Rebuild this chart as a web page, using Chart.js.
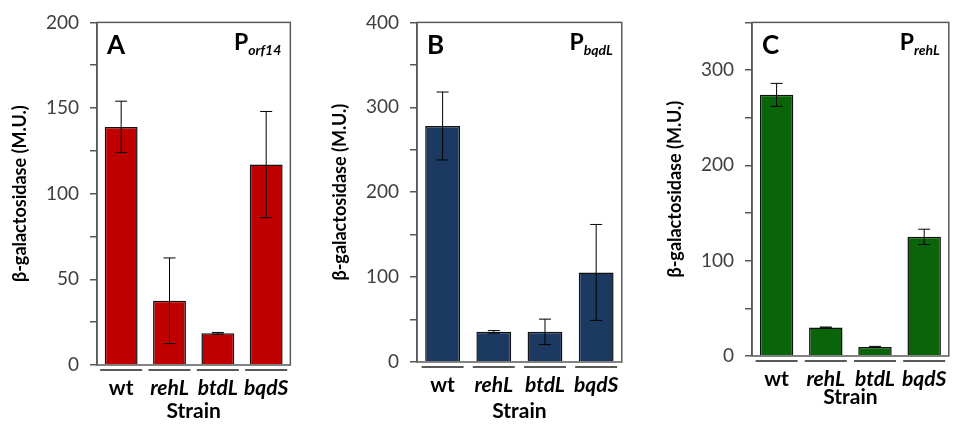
<!DOCTYPE html>
<html>
<head>
<meta charset="utf-8">
<script src="https://cdn.jsdelivr.net/npm/chart.js@4"></script>
<style>
  body { margin: 0; background: #fff; }
  #wrap { position: relative; width: 963px; height: 424px; overflow: hidden; }
  canvas { position: absolute; top: 0; }
</style>
</head>
<body>
<div id="wrap">
  <canvas id="panelA" width="300" height="424" style="left:0px"></canvas>
  <canvas id="panelB" width="310" height="424" style="left:320px"></canvas>
  <canvas id="panelC" width="303" height="410" style="left:655px"></canvas>
</div>
<script>
const strains = ['wt', 'rehL', 'btdL', 'bqdS'];

const orf14Mean = [139, 37.5, 18.5, 117];
const orf14Err = [15, 25, 0.5, 31];

const bqdLMean = [278, 35.5, 35.5, 105.5];
const bqdLErr = [40, 1.5, 15, 56.5];

const rehLMean = [274, 30, 9.5, 125];
const rehLErr = [12, 0.4, 0.6, 8];

const yMaxA = 200, yStepA = 25, yLabelStepA = 50;
const yMaxB = 400, yStepB = 50, yLabelStepB = 100;
const yMaxC = 350, yStepC = 50, yLabelStepC = 100;

const FONT = 'Lato, "Open Sans", "DejaVu Sans", sans-serif';
const axisGray = '#595959';

// box around the plot area
const framePlugin = {
  id: 'frame',
  afterDraw(chart) {
    const a = chart.chartArea, c = chart.ctx;
    c.save();
    c.strokeStyle = axisGray;
    c.lineWidth = 1.5;
    c.strokeRect(a.left, a.top, a.right - a.left, a.bottom - a.top);
    c.restore();
  }
};

// error bars from the errs array stored on the dataset
const errorBarPlugin = {
  id: 'errorBars',
  afterDatasetsDraw(chart) {
    const c = chart.ctx, ys = chart.scales.y;
    chart.data.datasets.forEach((ds, di) => {
      const meta = chart.getDatasetMeta(di);
      meta.data.forEach((bar, i) => {
        const v = ds.data[i], e = ds.errs[i];
        const yTop = ys.getPixelForValue(v + e);
        const yBot = ys.getPixelForValue(v - e);
        c.save();
        c.strokeStyle = '#000';
        c.lineWidth = 1;
        c.beginPath();
        c.moveTo(bar.x, yTop); c.lineTo(bar.x, yBot);
        c.moveTo(bar.x - 6, yTop); c.lineTo(bar.x + 6, yTop);
        c.moveTo(bar.x - 6, yBot); c.lineTo(bar.x + 6, yBot);
        c.stroke();
        c.restore();
      });
    });
  }
};

// short lines under each category + panel letters
const decoPlugin = {
  id: 'deco',
  afterDraw(chart, args, opts) {
    const c = chart.ctx, a = chart.chartArea, xs = chart.scales.x;
    c.save();
    c.strokeStyle = axisGray;
    c.lineWidth = 2;
    strains.forEach((s, i) => {
      const x = xs.getPixelForValue(i);
      c.beginPath();
      c.moveTo(x - 21, a.bottom + 5);
      c.lineTo(x + 21, a.bottom + 5);
      c.stroke();
    });
    c.fillStyle = '#000';
    c.textBaseline = 'alphabetic';
    c.textAlign = 'left';
    c.font = 'bold 26px ' + FONT;
    c.fillText(opts.letter, a.left + 10, a.top + 32);
    // promoter name with subscript
    c.font = 'bold italic 14px ' + FONT;
    const subW = c.measureText(opts.sub).width;
    c.font = 'bold 23px ' + FONT;
    const pW = c.measureText('P').width;
    const x0 = a.right - 9 - subW - pW;
    c.fillText('P', x0, a.top + 28);
    c.font = 'bold italic 14px ' + FONT;
    c.fillText(opts.sub, x0 + pW, a.top + 33);
    c.restore();
  }
};

function makePanel(id, means, errs, color, yMax, yStep, yLabelStep, letter, sub, padTop, xAxisH) {
  const ctx = document.getElementById(id).getContext('2d');
  return new Chart(ctx, {
    type: 'bar',
    data: {
      labels: strains,
      datasets: [{
        data: means,
        errs: errs,
        backgroundColor: color,
        borderColor: '#111',
        borderWidth: 1.5,
        categoryPercentage: 1,
        barPercentage: 0.68
      }]
    },
    options: {
      responsive: false,
      devicePixelRatio: 1,
      animation: false,
      layout: { padding: { top: padTop, right: 5, left: 0, bottom: 0 } },
      plugins: {
        legend: { display: false },
        tooltip: { enabled: false },
        deco: { letter: letter, sub: sub }
      },
      scales: {
        x: {
          afterFit: s => { s.height = xAxisH; },
          grid: { display: false, drawTicks: false },
          border: { display: false },
          ticks: {
            padding: 11,
            color: '#000',
            autoSkip: false,
            minRotation: 0,
            maxRotation: 0,
            font: c => ({ family: FONT, size: 21, weight: 'bold', style: c.index === 0 ? 'normal' : 'italic' })
          },
          title: {
            display: true,
            text: 'Strain',
            color: '#000',
            font: { family: FONT, size: 21, weight: 'bold' },
            padding: { top: 0, bottom: 0 }
          }
        },
        y: {
          min: 0,
          max: yMax,
          afterFit: s => { s.width = 97; },
          grid: { drawOnChartArea: false, drawTicks: true, tickLength: 7, color: axisGray, lineWidth: 1.5 },
          border: { display: true, color: axisGray, width: 1.5 },
          ticks: {
            stepSize: yStep,
            padding: 11,
            color: '#404040',
            font: { family: FONT, size: 19 },
            callback: v => (v % yLabelStep === 0 ? v : '')
          },
          title: {
            display: true,
            text: 'β-galactosidase (M.U.)',
            color: '#000',
            font: { family: FONT, size: 18, weight: 'bold' },
            padding: { top: 9, bottom: 0 }
          }
        }
      }
    },
    plugins: [framePlugin, errorBarPlugin, decoPlugin]
  });
}

makePanel('panelA', orf14Mean, orf14Err, '#c00000', yMaxA, yStepA, yLabelStepA, 'A', 'orf14', 15, 59);
makePanel('panelB', bqdLMean, bqdLErr, '#1c3a61', yMaxB, yStepB, yLabelStepB, 'B', 'bqdL', 15, 62);
makePanel('panelC', rehLMean, rehLErr, '#0a640a', yMaxC, yStepC, yLabelStepC, 'C', 'rehL', 15, 54);
</script>
</body>
</html>
